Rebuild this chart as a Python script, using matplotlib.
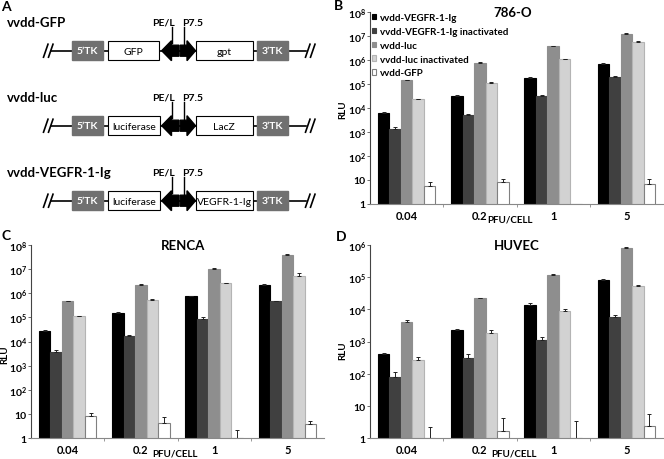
import numpy as np
import matplotlib
matplotlib.use("Agg")
import matplotlib.pyplot as plt
from matplotlib.patches import Rectangle, Polygon

plt.rcParams['font.family'] = ['Lato', 'DejaVu Sans']
plt.rcParams['font.weight'] = 'bold'
plt.rcParams['mathtext.fontset'] = 'custom'
plt.rcParams['mathtext.rm'] = 'Lato'
plt.rcParams['mathtext.bf'] = 'Lato:bold'

# ---- data ----
doses = ['0.04', '0.2', '1', '5']
series = ['vvdd-VEGFR-1-Ig', 'vvdd-VEGFR-1-Ig inactivated', 'vvdd-luc',
          'vvdd-luc inactivated', 'vvdd-GFP']

rlu_786o = [[6000, 32000, 185000, 680000],
            [1300, 5000, 32000, 200000],
            [150000, 750000, 3700000, 12000000],
            [23000, 110000, 1050000, 5700000],
            [5.5, 8.5, 1, 6.8]]
err_786o = [[600, 3000, 15000, 60000],
            [250, 600, 3000, 20000],
            [0, 60000, 0, 800000],
            [1500, 8000, 80000, 400000],
            [2.5, 2.5, 0, 4]]

rlu_renca = [[26000, 150000, 740000, 2200000],
             [3800, 17000, 85000, 460000],
             [460000, 2200000, 10000000, 38000000],
             [110000, 540000, 2500000, 5200000],
             [8.7, 4.2, 1, 3.9]]
err_renca = [[2500, 12000, 50000, 150000],
             [500, 1000, 15000, 30000],
             [0, 150000, 700000, 3000000],
             [5000, 40000, 200000, 1400000],
             [2.3, 3.7, 1.3, 1.5]]

rlu_huvec = [[410, 2200, 13500, 81000],
             [78, 300, 1100, 5900],
             [4100, 22000, 118000, 790000],
             [270, 1870, 9100, 54000],
             [1, 1.7, 1, 2.35]]
err_huvec = [[30, 200, 2000, 5000],
             [34, 110, 250, 900],
             [550, 0, 10000, 50000],
             [70, 420, 900, 3000],
             [1.2, 2.5, 2.4, 3.35]]

constructs = ['vvdd-GFP', 'vvdd-luc', 'vvdd-VEGFR-1-Ig']
left_genes = ['GFP', 'luciferase', 'luciferase']
right_genes = ['gpt', 'LacZ', 'VEGFR-1-Ig']

bar_colors = ['#000000', '#404040', '#8e8e8e', '#d2d2d2', '#ffffff']
edge_colors = ['#000000', '#404040', '#8e8e8e', '#b4b4b4', '#808080']

W, H = 664, 460
fig = plt.figure(figsize=(W / 100, H / 100), dpi=100)


def px_axes(left, top, right, bottom):
    return fig.add_axes([left / W, 1 - bottom / H, (right - left) / W, (bottom - top) / H])


def bar_panel(ax, vals, errs, top_dec, title, title_x, ylab_x, ylab_y, xlab_x, hpx):
    n = len(series)
    wid = 0.157
    x = np.arange(len(doses)) + 0.5
    conts = []
    for j in range(n):
        v = np.array(vals[j], float)
        e = np.array(errs[j], float)
        c = ax.bar(x + (j - (n - 1) / 2) * wid, v, wid, color=bar_colors[j],
                   edgecolor=edge_colors[j], linewidth=0.8,
                   yerr=[np.zeros_like(e), e],
                   error_kw=dict(ecolor='#222222', elinewidth=0.7, capsize=1.5, capthick=0.7),
                   label=series[j])
        conts.append(c)
    ax.set_yscale('log')
    ax.set_ylim(1, 10 ** top_dec)
    ax.set_xlim(0, len(doses))
    ticks = [10 ** k for k in range(top_dec + 1)]
    labs = ['1', '10'] + [r'$\mathbf{10^{%d}}$' % k for k in range(2, top_dec + 1)]
    ax.set_yticks(ticks)
    ax.set_yticklabels(labs, fontsize=7.5, fontweight='bold')
    ax.yaxis.set_minor_locator(matplotlib.ticker.NullLocator())
    ax.tick_params(axis='y', length=2, width=0.6, pad=1, color='#555555')
    ax.set_xticks([1, 2, 3])
    ax.set_xticklabels([])
    ax.set_xticks(x, minor=True)
    ax.set_xticklabels(doses, minor=True, fontsize=8, fontweight='bold')
    ax.tick_params(axis='x', which='major', length=2, width=0.6, color='#888888')
    ax.tick_params(axis='x', which='minor', length=0, pad=4)
    for s in ['top', 'right']:
        ax.spines[s].set_visible(False)
    ax.spines['left'].set_color('#444444')
    ax.spines['bottom'].set_color('#888888')
    ax.spines['left'].set_linewidth(0.8)
    ax.spines['bottom'].set_linewidth(0.8)
    ax.text(title_x, 1.0, title, transform=ax.transAxes, ha='center', va='center',
            fontsize=9.5, fontweight='bold')
    ax.text(ylab_x, ylab_y, 'RLU', transform=ax.transAxes, rotation=90,
            ha='center', va='center', fontsize=7, fontweight='bold')
    ax.text(xlab_x, -15 / hpx, 'PFU/CELL', transform=ax.transAxes,
            ha='center', va='center', fontsize=7, fontweight='bold')
    return conts


axB = px_axes(370, 13, 663, 205)
conts = bar_panel(axB, rlu_786o, err_786o, 8, '786-O', 0.488, -27 / 293, 0.495, 0.478, 192)
axB.legend(handles=conts, loc='upper left', bbox_to_anchor=(0.0, 1.005), frameon=False,
           handlelength=0.45, handleheight=0.45, handletextpad=0.35,
           labelspacing=0.5, borderpad=0.2, borderaxespad=0.0,
           prop=dict(weight='bold', size=7))

axC = px_axes(31, 245.7, 324, 439.3)
bar_panel(axC, rlu_renca, err_renca, 8, 'RENCA', 0.519, -26 / 293, 0.4375, 0.49, 193.6)

axD = px_axes(370, 245.7, 663, 439.3)
bar_panel(axD, rlu_huvec, err_huvec, 6, 'HUVEC', 0.502, -27 / 293, 0.46, 0.49, 193.6)

# ---- panel A schematic (pixel coordinates) ----
axA = px_axes(0, 0, 330, 225)
axA.set_xlim(0, 330)
axA.set_ylim(225, 0)
axA.axis('off')

for i, name in enumerate(constructs):
    yl = 51.7 + 75 * i
    yt = yl - 28.5
    axA.text(7, yt, name, ha='left', va='center', fontsize=9.5, fontweight='bold')
    # backbone and breaks
    axA.plot([47, 311], [yl, yl], color='black', lw=1.2, zorder=1)
    for x0 in (43.5, 48.5, 305.5, 310.5):
        axA.plot([x0, x0 + 4.5], [yl + 6.5, yl - 6.5], color='black', lw=1.2, zorder=2)
    axA.add_patch(Rectangle((307, yl - 1.5), 4, 3, color='white', zorder=1.5))
    axA.add_patch(Rectangle((45, yl - 1.5), 4, 3, color='white', zorder=1.5))
    # TK boxes
    for (x0, x1, lab) in [(71.7, 103.3, '5’TK'), (257.3, 288.3, '3’TK')]:
        axA.add_patch(Rectangle((x0, yl - 9.3), x1 - x0, 18.6, facecolor='#707070',
                                edgecolor='#707070', zorder=3))
        axA.text((x0 + x1) / 2, yl, lab, color='white', ha='center', va='center',
                 fontsize=7.5, fontweight='bold', zorder=4)
    # gene boxes
    lx1 = 158.5 if i == 0 else 160
    for (x0, x1, lab) in [(108.3, lx1, left_genes[i]), (196, 252.5, right_genes[i])]:
        axA.add_patch(Rectangle((x0, yl - 9.5), x1 - x0, 19, facecolor='white',
                                edgecolor='black', lw=0.8, zorder=3))
        axA.text((x0 + x1) / 2, yl + 0.5, lab, ha='center', va='center',
                 fontsize=7.5, fontweight='normal', zorder=4)
    # promoter arrows
    axA.add_patch(Polygon([(161.7, yl), (171.5, yl - 10), (171.5, yl - 5.5), (179, yl - 5.5),
                           (179, yl + 5.5), (171.5, yl + 5.5), (171.5, yl + 10)],
                          closed=True, color='black', zorder=3))
    axA.add_patch(Polygon([(180.2, yl - 5.5), (187, yl - 5.5), (187, yl - 10), (195.5, yl),
                           (187, yl + 10), (187, yl + 5.5), (180.2, yl + 5.5)],
                          closed=True, color='black', zorder=3))
    axA.plot([172, 172], [yt + 5, yl - 8], color='black', lw=1.0)
    axA.plot([184, 184], [yt + 5, yl - 5], color='black', lw=1.0)
    axA.text(163.4, yt, 'PE/L', ha='center', va='center', fontsize=7.5, fontweight='bold')
    axA.text(193, yt, 'P7.5', ha='center', va='center', fontsize=7.5, fontweight='bold')

# panel letters
for (lx, ly, letter) in [(1, 7, 'A'), (334, 6, 'B'), (1, 236, 'C'), (336, 237, 'D')]:
    fig.text(lx / W, 1 - ly / H, letter, ha='left', va='center', fontsize=10, fontweight='bold')

fig.savefig('out.png', dpi=100)
